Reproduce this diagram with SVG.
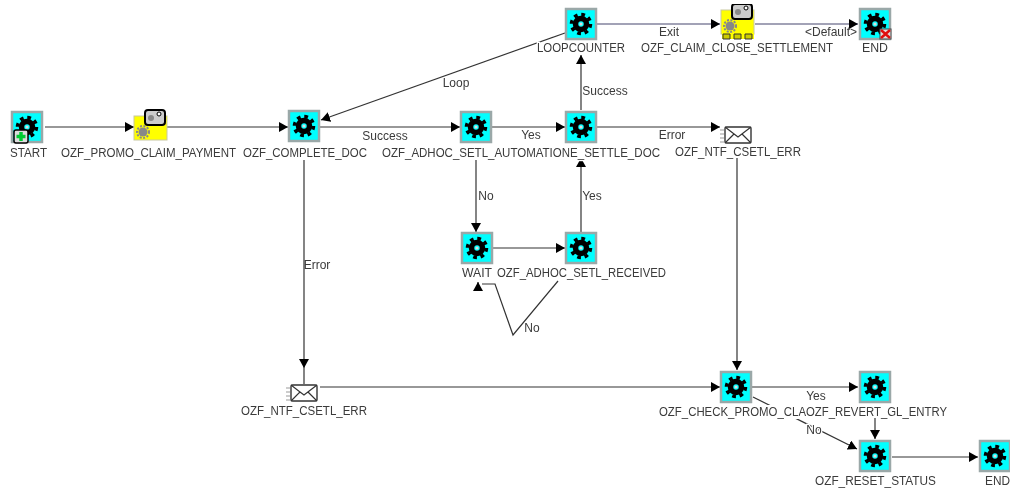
<svg xmlns="http://www.w3.org/2000/svg" width="1010" height="492" viewBox="0 0 1010 492">
<style>
text{font-family:"Liberation Sans",Arial,sans-serif;font-size:12px;fill:#3a3a3a}
.n{text-anchor:start;paint-order:stroke;stroke:#fff;stroke-width:2.5px}
.l{text-anchor:middle}
.c{fill:none;stroke:#333;stroke-width:1.2}
.c2{fill:none;stroke:#46466e;stroke-width:1.2}
.box{fill:#0ff;stroke:#9aa8a8;stroke-width:2.5}
.y{fill:#ff0;stroke:#c8c8a0;stroke-width:1}
</style>
<defs>
<marker id="a" markerUnits="userSpaceOnUse" markerWidth="11" markerHeight="11" refX="9" refY="5" orient="auto"><path d="M0 0L9 5L0 10Z" fill="#000"/></marker>
<filter id="b" x="0" y="0" width="100%" height="100%"><feGaussianBlur stdDeviation="0.45"/></filter>
<g id="gear"><circle r="9.500" fill="none" stroke="#000" stroke-width="3.500" stroke-dasharray="3.700 3.760"/><circle r="5.500" fill="none" stroke="#000" stroke-width="5.500"/><circle r="1.600" fill="#ddd"/></g>
<g id="act"><rect x="-15" y="-15" width="30" height="30" class="box"/><use href="#gear"/></g>
<g id="proc"><rect x="-16" y="-10" width="33" height="24" class="y"/><circle cx="-7" cy="6" r="4.500" fill="#888"/><circle cx="-7" cy="6" r="6" fill="none" stroke="#888" stroke-width="2" stroke-dasharray="2 1.500"/><rect x="-5" y="-16" width="20" height="15" rx="3" fill="#ccc" stroke="#000" stroke-width="2"/><circle cx="1" cy="-8" r="3" fill="#888"/><circle cx="9" cy="-12" r="2" fill="#fff" stroke="#000"/></g>
<g id="mail"><path d="M-18 -5h4M-18 -1h4M-18 3h4M-18 7h4" stroke="#999" stroke-width="1"/><rect x="-13" y="-8" width="26" height="16" rx="1.500" fill="#fff" stroke="#333" stroke-width="1.400"/><path d="M-13 -8L0 2L13 -8M-13 8L-4 -1M13 8L4 -1" fill="none" stroke="#333" stroke-width="1.200"/></g>
</defs>
<rect width="1010" height="492" fill="#fff"/>
<g filter="url(#b)">
<g id="connectors">
<path class="c" marker-end="url(#a)" d="M45 127H134"/>
<path class="c" marker-end="url(#a)" d="M167 127H288"/>
<path class="c" marker-end="url(#a)" d="M320 127H460"/>
<path class="c" marker-end="url(#a)" d="M492 127H565"/>
<path class="c" marker-end="url(#a)" d="M597 127H720"/>
<path class="c" marker-end="url(#a)" d="M581 110V55"/>
<path class="c" marker-end="url(#a)" d="M565 33L321 120"/>
<path class="c2" marker-end="url(#a)" d="M597 24H720"/>
<path class="c2" marker-end="url(#a)" d="M755 24H858"/>
<path class="c" marker-end="url(#a)" d="M476 160V232"/>
<path class="c" marker-end="url(#a)" d="M493 248H565"/>
<path class="c" marker-end="url(#a)" d="M581 232V158"/>
<path class="c" d="M558 281L513 335L495 284H482"/>
<path class="c" marker-end="url(#a)" d="M478 291V282"/>
<path class="c" marker-end="url(#a)" d="M304 160V368"/>
<path class="c" d="M304 368V384"/>
<path class="c" marker-end="url(#a)" d="M737 158V370"/>
<path class="c" marker-end="url(#a)" d="M320 387H720"/>
<path class="c" marker-end="url(#a)" d="M752 387H858"/>
<path class="c" marker-end="url(#a)" d="M753 397L857 449"/>
<path class="c" marker-end="url(#a)" d="M875 418V439"/>
<path class="c" marker-end="url(#a)" d="M892 457H978"/>
</g>
<g id="n-start"><use href="#act" x="27" y="127"/><rect x="14" y="130" width="14" height="13" rx="2" fill="#ddd" stroke="#000" stroke-width="1.500"/><path d="M21 132v9M16.500 136.500h9" stroke="#0c3" stroke-width="3.500"/><text class="n" x="10" y="157" textLength="37" lengthAdjust="spacingAndGlyphs">START</text></g>
<g id="n-promo"><use href="#proc" x="150" y="126"/><text class="n" x="61" y="157" textLength="175" lengthAdjust="spacingAndGlyphs">OZF_PROMO_CLAIM_PAYMENT</text></g>
<g id="n-complete"><use href="#act" x="304" y="126"/><text class="n" x="243" y="157" textLength="124" lengthAdjust="spacingAndGlyphs">OZF_COMPLETE_DOC</text></g>
<g id="n-auto"><use href="#act" x="476" y="127"/><text class="n" x="382" y="157" textLength="188" lengthAdjust="spacingAndGlyphs">OZF_ADHOC_SETL_AUTOMATION</text></g>
<g id="n-settle"><use href="#act" x="581" y="127"/><text class="n" x="570" y="157" textLength="90" lengthAdjust="spacingAndGlyphs">E_SETTLE_DOC</text></g>
<g id="n-ntf1"><use href="#mail" x="738" y="135"/><text class="n" x="675" y="156" textLength="126" lengthAdjust="spacingAndGlyphs">OZF_NTF_CSETL_ERR</text></g>
<g id="n-loop"><use href="#act" x="581" y="24"/><text class="n" x="537" y="52" textLength="88" lengthAdjust="spacingAndGlyphs">LOOPCOUNTER</text></g>
<g id="n-close"><use href="#proc" x="737" y="20"/><path d="M722 33h32v6h-32z" fill="#ff0"/><path d="M723 34h7v5h-7zM734 34h7v5h-7zM745 34h7v5h-7z" fill="#cc0" stroke="#333"/><text class="n" x="641" y="52" textLength="192" lengthAdjust="spacingAndGlyphs">OZF_CLAIM_CLOSE_SETTLEMENT</text></g>
<g id="n-end1"><use href="#act" x="875" y="24"/><rect x="880" y="29" width="11" height="10" fill="#ddd" stroke="#444"/><path d="M881 30l9 8M890 30l-9 8" stroke="#e01010" stroke-width="2.500"/><text class="n" x="862" y="52" textLength="26" lengthAdjust="spacingAndGlyphs">END</text></g>
<g id="n-wait"><use href="#act" x="477" y="248"/><text class="n" x="462" y="277" textLength="30" lengthAdjust="spacingAndGlyphs">WAIT</text></g>
<g id="n-received"><use href="#act" x="581" y="248"/><text class="n" x="497" y="277" textLength="169" lengthAdjust="spacingAndGlyphs">OZF_ADHOC_SETL_RECEIVED</text></g>
<g id="n-ntf2"><use href="#mail" x="304" y="393"/><text class="n" x="241" y="415" textLength="126" lengthAdjust="spacingAndGlyphs">OZF_NTF_CSETL_ERR</text></g>
<g id="n-check"><use href="#act" x="736" y="387"/><rect x="659" y="405" width="147" height="14" fill="#fff"/><text class="n" x="659" y="416" textLength="147" lengthAdjust="spacingAndGlyphs">OZF_CHECK_PROMO_CLA</text></g>
<g id="n-revert"><use href="#act" x="875" y="387"/><text class="n" x="806" y="416" textLength="141" lengthAdjust="spacingAndGlyphs">OZF_REVERT_GL_ENTRY</text></g>
<g id="n-reset"><use href="#act" x="875" y="456"/><text class="n" x="815" y="485" textLength="121" lengthAdjust="spacingAndGlyphs">OZF_RESET_STATUS</text></g>
<g id="n-end2"><use href="#act" x="995" y="456"/><text class="n" x="985" y="485" textLength="25" lengthAdjust="spacingAndGlyphs">END</text></g>
<g id="edge-labels">
<text class="l" x="669" y="36">Exit</text>
<text class="l" x="831" y="36">&lt;Default&gt;</text>
<text class="l" x="456" y="87">Loop</text>
<text class="l" x="605" y="95">Success</text>
<text class="l" x="385" y="140">Success</text>
<text class="l" x="531" y="139">Yes</text>
<text class="l" x="672" y="139">Error</text>
<text class="l" x="486" y="200">No</text>
<text class="l" x="592" y="200">Yes</text>
<text class="l" x="317" y="269">Error</text>
<text class="l" x="532" y="332">No</text>
<text class="l" x="816" y="400">Yes</text>
<text class="l n" x="814" y="434" style="text-anchor:middle">No</text>
</g>
</g>
</svg>
